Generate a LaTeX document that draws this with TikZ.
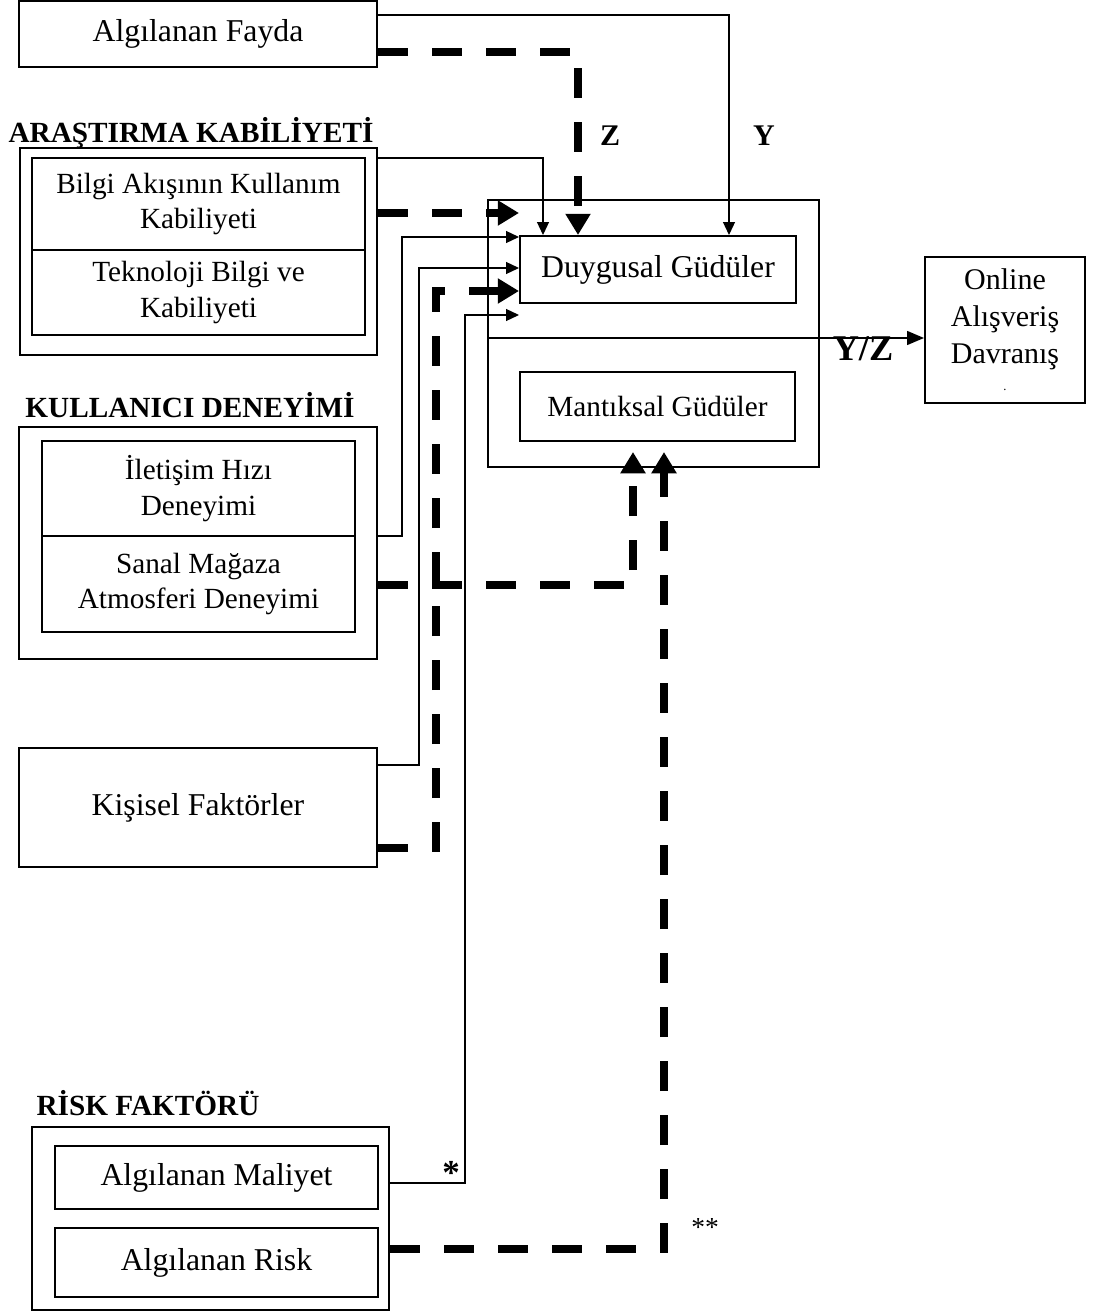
\documentclass[tikz,border=0pt]{standalone}
\usepackage{fontspec}
\setmainfont{Liberation Serif}
\usetikzlibrary{arrows.meta}
\newcommand{\px}{0.4pt}

\begin{document}
\begin{tikzpicture}[x=0.4pt, y=-0.4pt,
    kutu/.style={draw, line width=0.8pt, inner sep=0pt, align=center, font=\fontsize{12.7}{14.8}\selectfont},
    kucuk/.style={font=\fontsize{11.7}{14.2}\selectfont},
    baslik/.style={font=\bfseries\fontsize{11.7}{14}\selectfont},
    ince/.style={line width=0.5pt, -{Triangle[length=5.2pt, width=4.8pt]}},
    kalin/.style={line width=3.2pt, dash pattern=on 12pt off 9.6pt, -{Triangle[length=8.5pt, width=9.6pt]}}]
    \useasboundingbox (0,0) rectangle (1093,1312);

    % sol taraftaki kutular
    \node[kutu, minimum width=358*\px, minimum height=66*\px] (fayda) at (198,34) {Algılanan Fayda};

    \node[baslik] (arBaslik) at (191,133) {ARAŞTIRMA KABİLİYETİ};
    \node[kutu, minimum width=357*\px, minimum height=207*\px] (arDis) at (198.5,251.5) {};
    \node[kutu, kucuk, minimum width=333*\px, minimum height=92*\px] (bilgi) at (198.5,204) {Bilgi Akışının Kullanım\\Kabiliyeti};
    \node[kutu, kucuk, minimum width=333*\px, minimum height=85*\px] (tekno) at (198.5,292.5) {Teknoloji Bilgi ve\\Kabiliyeti};

    \node[baslik] (kulBaslik) at (190,405) {KULLANICI DENEYİMİ};
    \node[kutu, minimum width=358*\px, minimum height=232*\px] (kulDis) at (198,543) {};
    \node[kutu, kucuk, minimum width=313*\px, minimum height=95*\px] (iletisim) at (198.5,488.5) {İletişim Hızı\\Deneyimi};
    \node[kutu, kucuk, minimum width=313*\px, minimum height=96*\px] (sanal) at (198.5,584) {Sanal Mağaza\\Atmosferi Deneyimi};

    \node[kutu, minimum width=358*\px, minimum height=119*\px] (kisisel) at (198,807.5) {Kişisel Faktörler};

    \node[baslik] (riskBaslik) at (148,1103) {RİSK FAKTÖRÜ};
    \node[kutu, minimum width=357*\px, minimum height=183*\px] (riskDis) at (210.5,1218.5) {};
    \node[kutu, minimum width=323*\px, minimum height=63*\px] (maliyet) at (216.5,1177.5) {Algılanan Maliyet};
    \node[kutu, minimum width=323*\px, minimum height=69*\px] (risk) at (216.5,1262.5) {Algılanan Risk};

    % güdüler ve davranış
    \node[kutu, minimum width=331*\px, minimum height=267*\px] (gudu) at (653.5,333.5) {};
    \node[kutu, minimum width=276*\px, minimum height=67*\px] (duygusal) at (658,269.5) {Duygusal Güdüler};
    \node[kutu, kucuk, minimum width=275*\px, minimum height=69*\px] (mantiksal) at (657.5,406.5) {Mantıksal Güdüler};
    \node[kutu, font=\fontsize{12}{14.8}\selectfont, minimum width=160*\px, minimum height=146*\px] (online) at (1005,330) {Online\\Alışveriş\\Davranış\\[-4pt]{\fontsize{5}{5}\selectfont .}};

    \coordinate (mt1) at (633,452);
    \coordinate (mt2) at (664,452);

    % oklar
    \draw[ince] (fayda.east |- 0,15) -| (duygusal.north -| 729,0);
    \draw[kalin] (fayda.east |- 0,52) -| (duygusal.north -| 578,0);
    \draw[ince] (arDis.east |- 0,158) -| (duygusal.north -| 543,0);
    \draw[kalin] (arDis.east |- 0,213) -- (duygusal.west |- 0,213);
    \draw[ince] (kulDis.east |- 0,536) -| (402,237) -- (duygusal.west |- 0,237);
    \draw[kalin] (kulDis.east |- 0,585) -| (mt1);
    \draw[ince] (kisisel.east |- 0,765) -| (419,268) -- (duygusal.west |- 0,268);
    \draw[kalin] (kisisel.east |- 0,848) -| (436,291) -- (duygusal.west |- 0,291);
    \draw[ince] (riskDis.east |- 0,1183) -| (465,315) -- (duygusal.west |- 0,315);
    \draw[kalin] (riskDis.east |- 0,1249) -| (mt2);
    \draw[line width=0.6pt, -{Triangle[length=6.8pt, width=5.6pt]}] (gudu.west |- 0,338) -- (online.west |- 0,338);

    % etiketler
    \node[font=\bfseries\fontsize{12}{14}\selectfont] (z) at (610,136) {Z};
    \node[font=\bfseries\fontsize{12}{14}\selectfont] (y) at (764,136) {Y};
    \node[font=\bfseries\fontsize{14.5}{16}\selectfont] (yz) at (863,349) {Y/Z};
    \node[font=\bfseries\fontsize{14}{15}\selectfont] (yildiz) at (451,1173) {*};
    \node[font=\fontsize{11}{13}\selectfont] (yildiz2) at (705,1227) {**};
\end{tikzpicture}
\end{document}
